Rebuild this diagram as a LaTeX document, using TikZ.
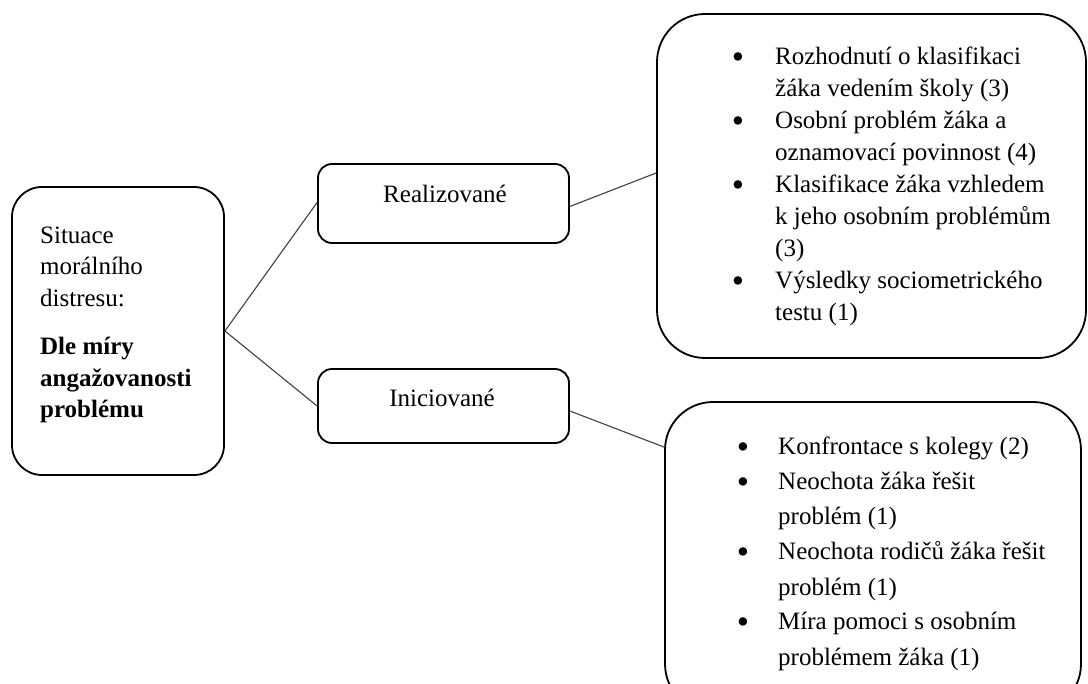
\documentclass[tikz,border=0pt]{standalone}
\usepackage{fontspec}
\setmainfont{Liberation Serif}
\begin{document}
\begin{tikzpicture}[x=1pt,y=-1pt,
  box/.style={draw, line width=1.8pt, rectangle, inner sep=0pt},
  conn/.style={draw, line width=1.1pt, black!75},
  txt/.style={inner sep=0pt, anchor=base west, font=\fontsize{25}{30}\selectfont},
  ctxt/.style={inner sep=0pt, anchor=base, font=\fontsize{25}{30}\selectfont},
  bul/.style={inner sep=0pt, anchor=base, yshift=-3.2pt, font=\fontsize{35}{35}\selectfont}]
\useasboundingbox (0,0) rectangle (1088,684);
\clip (0,0) rectangle (1088,684);

% boxes
\node[box, minimum width=212pt, minimum height=288pt, rounded corners=30pt] (left) at (118,331) {};
\node[box, minimum width=251pt, minimum height=79pt, rounded corners=14pt] (real) at (443.5,203.5) {};
\node[box, minimum width=251pt, minimum height=74pt, rounded corners=14pt] (ini) at (443.5,406) {};
\node[box, minimum width=429pt, minimum height=344pt, rounded corners=48pt] (top) at (871.5,186) {};
\node[box, minimum width=416pt, minimum height=310pt, rounded corners=48pt] (bot) at (873,557) {};

% left text
\node[txt] (l1) at (40,244) {Situace};
\node[txt] (l2) at (40,275) {morálního};
\node[txt] (l3) at (40,307) {distresu:};
\node[txt, font=\fontsize{25}{30}\selectfont\bfseries] (l4) at (40,355) {Dle míry};
\node[txt, font=\fontsize{25}{30}\selectfont\bfseries] (l5) at (40,387) {angažovanosti};
\node[txt, font=\fontsize{25}{30}\selectfont\bfseries] (l6) at (40,418) {problému};

% middle text
\node[ctxt] (rt) at (445,203) {Realizované};
\node[ctxt] (it) at (442,407) {Iniciované};

% top list
\node[bul] (tb1) at (738,65) {•};
\node[bul] (tb2) at (738,129) {•};
\node[bul] (tb3) at (738,193) {•};
\node[bul] (tb4) at (738,289) {•};
\node[txt] (t1) at (775,65) {Rozhodnutí o klasifikaci};
\node[txt] (t2) at (775,97) {žáka vedením školy (3)};
\node[txt] (t3) at (775,129) {Osobní problém žáka a};
\node[txt] (t4) at (775,161) {oznamovací povinnost (4)};
\node[txt] (t5) at (775,193) {Klasifikace žáka vzhledem};
\node[txt] (t6) at (775,225) {k jeho osobním problémům};
\node[txt] (t7) at (775,257) {(3)};
\node[txt] (t8) at (775,289) {Výsledky sociometrického};
\node[txt] (t9) at (775,321) {testu (1)};

% bottom list
\node[bul] (bb1) at (743,455) {•};
\node[bul] (bb2) at (743,490) {•};
\node[bul] (bb3) at (743,560) {•};
\node[bul] (bb4) at (743,630) {•};
\node[txt] (b1) at (778,455) {Konfrontace s kolegy (2)};
\node[txt] (b2) at (778,490) {Neochota žáka řešit};
\node[txt] (b3) at (778,525) {problém (1)};
\node[txt] (b4) at (778,560) {Neochota rodičů žáka řešit};
\node[txt] (b5) at (778,595) {problém (1)};
\node[txt] (b6) at (778,630) {Míra pomoci s osobním};
\node[txt] (b7) at (778,665) {problémem žáka (1)};

% connectors
\draw[conn] (left.east) -- ([yshift=1pt]real.west);
\draw[conn] (left.east) -- (ini.west);
\draw[conn] ([yshift=-3pt]real.east) -- ([yshift=13pt]top.west);
\draw[conn] ([yshift=-5pt]ini.east) -- ([yshift=-46pt]bot.north west);
\end{tikzpicture}
\end{document}
